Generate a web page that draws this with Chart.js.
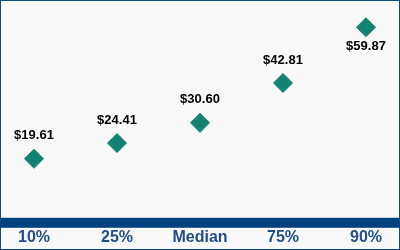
<!DOCTYPE html>
<html>
<head>
<meta charset="utf-8">
<script src="https://cdn.jsdelivr.net/npm/chart.js@4/dist/chart.umd.min.js"></script>
<style>
  html, body { margin: 0; padding: 0; background: #ffffff; }
  #wrap { width: 400px; height: 250px; }
</style>
</head>
<body>
<div id="wrap"><canvas id="myChart" width="400" height="250"></canvas></div>
<script>
var categories = ["10%", "25%", "Median", "75%", "90%"];
var wages = [19.61, 24.41, 30.60, 42.81, 59.87];
var wageLabels = ["$19.61", "$24.41", "$30.60", "$42.81", "$59.87"];

var navy = '#00427f';

// background, frame and the thick band along the zero line
var framePlugin = {
    id: 'frame',
    beforeDraw: function(chart){
        var ctx = chart.ctx;
        ctx.save();
        ctx.fillStyle = '#f9f9f9';
        ctx.fillRect(0, 0, chart.width, chart.height);
        ctx.restore();
    },
    afterDraw: function(chart){
        var ctx = chart.ctx;
        var y0 = chart.scales.y.getPixelForValue(0);
        ctx.save();
        ctx.fillStyle = navy;
        ctx.fillRect(0, y0 - 5, chart.width, 10);
        ctx.strokeStyle = '#0b4a85';
        ctx.lineWidth = 2;
        ctx.strokeRect(0, 0, chart.width, chart.height);
        ctx.restore();
    }
};

// dollar labels over the markers (last one goes under)
var valueLabels = {
    id: 'valueLabels',
    afterDatasetsDraw: function(chart){
        var ctx = chart.ctx;
        var meta = chart.getDatasetMeta(0);
        ctx.save();
        ctx.font = 'bold 13px "Liberation Sans", Arial, sans-serif';
        ctx.fillStyle = '#000000';
        ctx.textAlign = 'center';
        ctx.textBaseline = 'middle';
        meta.data.forEach(function(pt, i){
            var dy = (i === meta.data.length - 1) ? 19 : -23;
            ctx.fillText(wageLabels[i], pt.x, pt.y + dy);
        });
        ctx.restore();
    }
};

var ctx = document.getElementById('myChart').getContext('2d');
var chart = new Chart(ctx, {
    type: 'line',
    data: {
        labels: categories,
        datasets: [{
            data: wages,
            showLine: false,
            pointStyle: 'rectRot',
            pointRadius: 9.5,
            pointHoverRadius: 9.5,
            backgroundColor: '#138371',
            borderColor: '#138371',
            borderWidth: 1
        }]
    },
    options: {
        responsive: false,
        animation: false,
        events: [],
        layout: { padding: { left: 34, right: 34, top: 8, bottom: -2 } },
        plugins: {
            legend: { display: false },
            tooltip: { enabled: false }
        },
        scales: {
            x: {
                offset: false,
                grid: { display: false, drawTicks: false },
                border: { display: false },
                ticks: {
                    color: '#1f4e89',
                    font: { family: '"Liberation Sans", Arial, sans-serif', size: 16, weight: 'bold' },
                    padding: 5,
                    maxRotation: 0,
                    autoSkip: false
                }
            },
            y: {
                display: false,
                min: 0,
                max: 65
            }
        }
    },
    plugins: [framePlugin, valueLabels]
});
</script>
</body>
</html>
